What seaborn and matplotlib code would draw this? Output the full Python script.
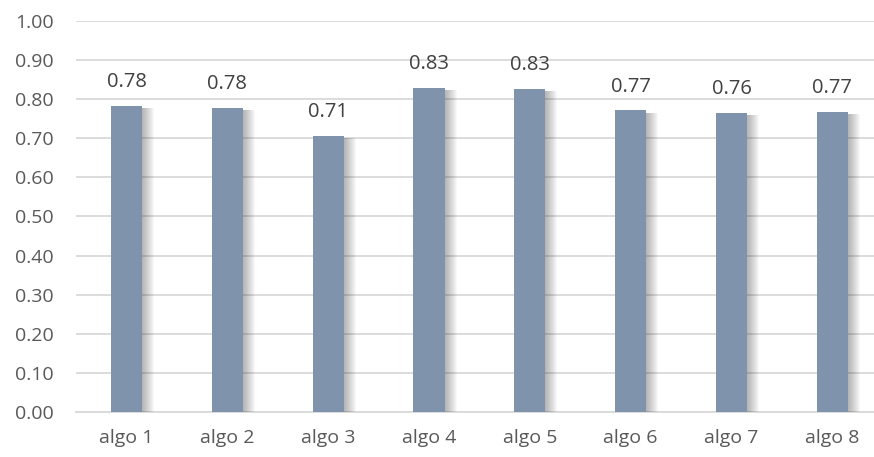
import matplotlib
matplotlib.use("Agg")
import matplotlib.pyplot as plt
import matplotlib.patheffects as pe
import seaborn as sns
import pandas as pd
import numpy as np

algos = ["algo 1", "algo 2", "algo 3", "algo 4", "algo 5", "algo 6", "algo 7", "algo 8"]
scores = [0.783, 0.778, 0.706, 0.829, 0.826, 0.771, 0.764, 0.767]

df = pd.DataFrame({"algo": algos, "score": scores})

sns.set_theme(style="white")
plt.rcParams["font.family"] = ["Open Sans", "DejaVu Sans"]

fig, ax = plt.subplots(figsize=(8.74, 4.57), dpi=100)
sns.barplot(data=df, x="algo", y="score", color="#7F93AD", saturation=1,
            width=0.31, linewidth=0, ax=ax, zorder=3)

# fake a soft drop shadow: stack of faint offset copies
shadow = []
for k in range(1, 13):
    px = k * 0.72
    shadow.append(pe.SimplePatchShadow(offset=(px, -1.8), shadow_rgbFace="#3a3a3a", alpha=0.035))
shadow.append(pe.Normal())
for bar in ax.patches:
    bar.set_path_effects(shadow)

for bar, v in zip(ax.patches, scores):
    ax.text(bar.get_x() + bar.get_width() / 2, v + 0.035, f"{v:.2f}",
            ha="center", va="bottom", fontsize=14.5, color="#404040")

ticks = np.arange(0, 1.01, 0.1)
ax.set_ylim(0, 1.0)
ax.set_yticks(ticks)
ax.set_yticklabels([f"{t:.2f}" for t in ticks])
ax.set_xlim(-0.5, 7.5)
ax.yaxis.grid(True, color="#D9D9D9", linewidth=1.3, zorder=0)
ax.set_axisbelow(True)
for s in ["top", "right", "left"]:
    ax.spines[s].set_visible(False)
ax.spines["bottom"].set_color("#D9D9D9")
ax.spines["bottom"].set_linewidth(1.3)
ax.tick_params(axis="both", length=0, labelsize=14, labelcolor="#595959")
ax.tick_params(axis="y", pad=16)
ax.tick_params(axis="x", pad=12)
ax.set_xlabel("")
ax.set_ylabel("")

fig.subplots_adjust(left=0.087, right=1.01, top=0.955, bottom=0.098)
fig.savefig("out.png", dpi=100)
